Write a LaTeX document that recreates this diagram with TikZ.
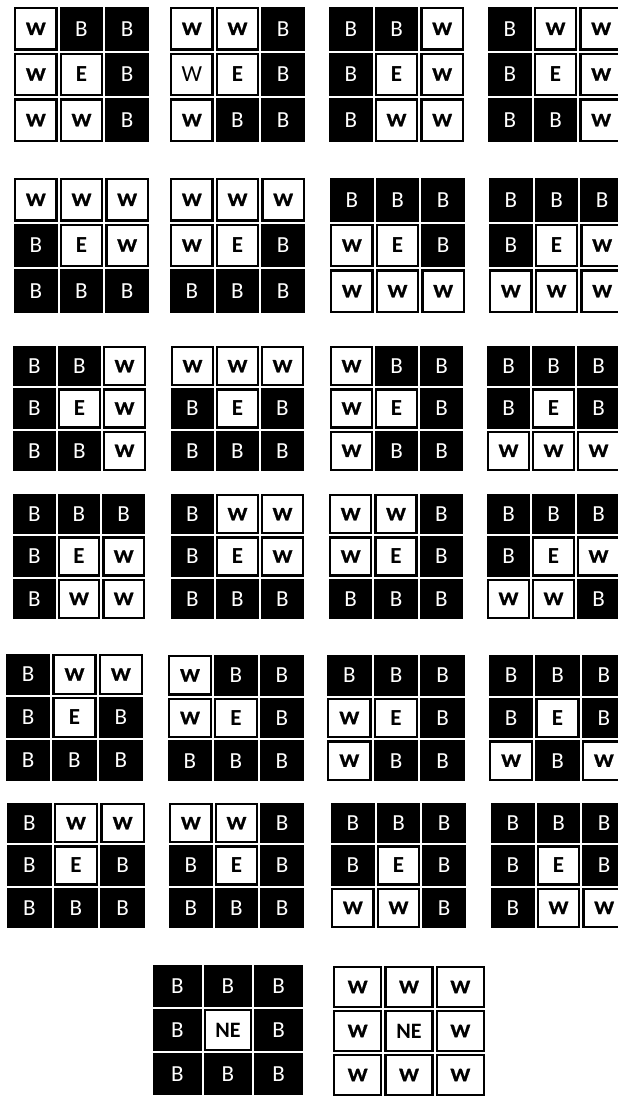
\documentclass[tikz,border=0pt]{standalone}
\usepackage{fontspec}
\setmainfont{Carlito}
\newfontfamily\wfont[FakeStretch=1.15,BoldFeatures={FakeBold=1.2}]{Carlito}
\newcommand\txtB{B}
\newcommand\txtW{W}
\newcommand\txtV{W}
\newcommand\txtE{E}
\newcommand\txtN{NE}
\tikzset{
  cellbase/.style={inner sep=0pt, outer sep=0pt, anchor=center, line width=2.4pt},
  cellB/.style={cellbase, fill=black, draw=black, text=white, font=\fontsize{23}{23}\selectfont},
  cellW/.style={cellbase, fill=white, draw=black, text=black, font=\wfont\bfseries\fontsize{19}{19}\selectfont},
  cellV/.style={cellW, font=\fontsize{23}{23}\selectfont},
  cellE/.style={cellW, font=\bfseries\fontsize{23}{23}\selectfont},
  cellN/.style={cellW, font=\bfseries\fontsize{22}{22}\selectfont},
}
\newcommand\drawgrid[6]{%
  \foreach \t [count=\i from 0] in {#6} {
    \pgfmathtruncatemacro\cc{mod(\i,3)}
    \pgfmathtruncatemacro\rr{int(\i/3)}
    \pgfmathsetmacro\cx{#2+(\cc+0.5)*#4/3}
    \pgfmathsetmacro\cy{#3+(\rr+0.5)*#5/3}
    \pgfmathsetmacro\cw{#4/3-4.4}
    \pgfmathsetmacro\ch{#5/3-4.4}
    \node[cell\t, minimum width=\cw pt, minimum height=\ch pt] (#1-\i) at (\cx pt, -\cy pt) {\csname txt\t\endcsname};
  }%
}
\begin{document}
\begin{tikzpicture}
\fill[white] (0,0) rectangle (618pt,-1097pt);
\useasboundingbox (0,0) rectangle (618pt,-1097pt);
% row 1
\drawgrid{g1}{13}{6}{137}{137}{W,B,B,W,E,B,W,W,B}
\drawgrid{g2}{169}{6}{137}{137}{W,W,B,V,E,B,W,B,B}
\drawgrid{g3}{328}{6}{137}{137}{B,B,W,B,E,W,B,W,W}
\drawgrid{g4}{487}{6}{137}{137}{B,W,W,B,E,W,B,B,W}
% row 2
\drawgrid{g5}{13}{177}{137}{137}{W,W,W,B,E,W,B,B,B}
\drawgrid{g6}{169}{177}{137}{137}{W,W,W,W,E,B,B,B,B}
\drawgrid{g7}{329}{177}{137}{137}{B,B,B,W,E,B,W,W,W}
\drawgrid{g8}{488}{177}{137}{137}{B,B,B,B,E,W,W,W,W}
% row 3
\drawgrid{g9}{12}{345}{135}{127}{B,B,W,B,E,W,B,B,W}
\drawgrid{g10}{170}{345}{135}{127}{W,W,W,B,E,B,B,B,B}
\drawgrid{g11}{329}{345}{135}{127}{W,B,B,W,E,B,W,B,B}
\drawgrid{g12}{486}{345}{135}{127}{B,B,B,B,E,B,W,W,W}
% row 4
\drawgrid{g13}{12}{493}{134}{127}{B,B,B,B,E,W,B,W,W}
\drawgrid{g14}{170}{493}{135}{127}{B,W,W,B,E,W,B,B,B}
\drawgrid{g15}{328}{493}{136}{127}{W,W,B,W,E,B,B,B,B}
\drawgrid{g16}{486}{493}{135}{127}{B,B,B,B,E,W,W,W,B}
% row 5
\drawgrid{g17}{5}{653}{139}{129}{B,W,W,B,E,B,B,B,B}
\drawgrid{g18}{167}{654}{138}{128}{W,B,B,W,E,B,B,B,B}
\drawgrid{g19}{326}{654}{140}{128}{B,B,B,W,E,B,W,B,B}
\drawgrid{g20}{488}{654}{139}{128}{B,B,B,B,E,B,W,B,W}
% row 6
\drawgrid{g21}{6}{802}{140}{127}{B,W,W,B,E,B,B,B,B}
\drawgrid{g22}{168}{802}{137}{127}{W,W,B,B,E,B,B,B,B}
\drawgrid{g23}{330}{802}{137}{127}{B,B,B,B,E,B,W,W,B}
\drawgrid{g24}{490}{802}{137}{127}{B,B,B,B,E,B,B,W,W}
% row 7
\drawgrid{g25}{152}{964}{152}{132}{B,B,B,B,N,B,B,B,B}
\drawgrid{g26}{332}{965}{154}{132}{W,W,W,W,N,W,W,W,W}
\end{tikzpicture}
\end{document}
